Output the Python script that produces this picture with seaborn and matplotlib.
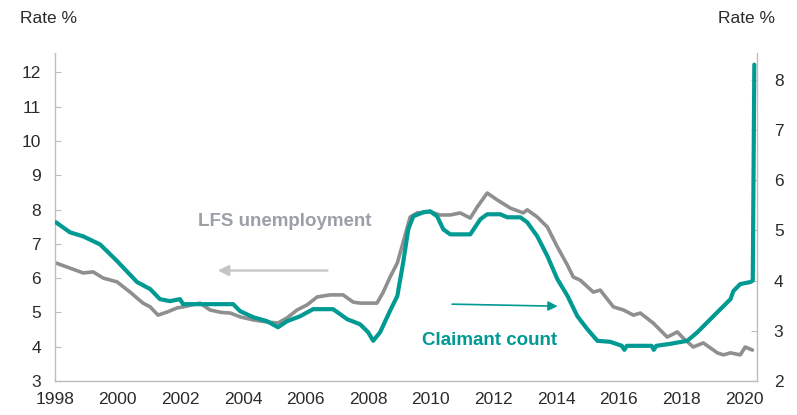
import matplotlib
matplotlib.use("Agg")
import matplotlib.pyplot as plt
import seaborn as sns
import numpy as np

sns.set_style("white")
plt.rcParams["font.family"] = ["Liberation Sans", "DejaVu Sans"]

# LFS unemployment rate (left axis)
lfs_year = [1998.03, 1998.48, 1998.9, 1999.22, 1999.54, 1999.98, 2000.4, 2000.81, 2001.04,
            2001.29, 2001.58, 2001.9, 2002.09, 2002.63, 2002.95, 2003.3, 2003.6, 2003.91,
            2004.33, 2004.77, 2005.12, 2005.41, 2005.73, 2006.05, 2006.37, 2006.79, 2007.2,
            2007.52, 2007.74, 2008.28, 2008.47, 2008.7, 2008.93, 2009.02, 2009.34, 2009.56,
            2009.98, 2010.3, 2010.62, 2010.94, 2011.26, 2011.48, 2011.8, 2012.12, 2012.54,
            2012.95, 2013.08, 2013.4, 2013.72, 2014.04, 2014.36, 2014.55, 2014.77, 2015.19,
            2015.41, 2015.83, 2016.15, 2016.47, 2016.69, 2017.1, 2017.55, 2017.87, 2018.06,
            2018.38, 2018.7, 2019.15, 2019.34, 2019.57, 2019.88, 2020.04, 2020.27]
lfs_rate = [6.44, 6.29, 6.15, 6.18, 6.0, 5.89, 5.59, 5.27, 5.16,
            4.92, 5.01, 5.13, 5.16, 5.27, 5.07, 5.0, 4.98, 4.87,
            4.78, 4.72, 4.69, 4.84, 5.07, 5.22, 5.45, 5.51, 5.51,
            5.30, 5.27, 5.27, 5.57, 6.03, 6.44, 6.73, 7.78, 7.90,
            7.93, 7.84, 7.84, 7.90, 7.75, 8.07, 8.48, 8.28, 8.04,
            7.90, 7.99, 7.78, 7.49, 6.91, 6.38, 6.03, 5.94, 5.59,
            5.65, 5.16, 5.07, 4.92, 4.98, 4.69, 4.28, 4.43, 4.25,
            3.99, 4.11, 3.82, 3.76, 3.82, 3.76, 3.99, 3.90]

# Claimant count rate (right axis)
cc_year = [1998.03, 1998.48, 1998.9, 1999.44, 1999.98, 2000.62, 2001.04, 2001.35, 2001.67,
           2001.99, 2002.09, 2003.27, 2003.69, 2003.91, 2004.33, 2004.77, 2005.12, 2005.41,
           2005.83, 2006.24, 2006.88, 2007.33, 2007.74, 2008.0, 2008.16, 2008.38, 2008.7,
           2008.93, 2009.12, 2009.28, 2009.44, 2009.76, 2009.98, 2010.2, 2010.4, 2010.62,
           2011.26, 2011.58, 2011.8, 2012.22, 2012.44, 2012.86, 2013.08, 2013.4, 2013.72,
           2014.04, 2014.36, 2014.68, 2015.0, 2015.32, 2015.73, 2016.1, 2016.18, 2016.26,
           2017.05, 2017.12, 2017.2, 2017.65, 2018.19, 2018.51, 2018.83, 2019.15, 2019.57,
           2019.66, 2019.88, 2020.2, 2020.28, 2020.33]
cc_rate = [5.16, 4.96, 4.88, 4.72, 4.39, 3.97, 3.83, 3.63, 3.59,
           3.63, 3.53, 3.53, 3.53, 3.39, 3.27, 3.19, 3.07, 3.19,
           3.29, 3.43, 3.43, 3.23, 3.13, 2.97, 2.80, 2.97, 3.40,
           3.69, 4.37, 5.02, 5.28, 5.36, 5.38, 5.28, 5.02, 4.92,
           4.92, 5.22, 5.32, 5.32, 5.26, 5.26, 5.16, 4.88, 4.49,
           4.03, 3.70, 3.29, 3.03, 2.80, 2.78, 2.70, 2.62, 2.70,
           2.70, 2.62, 2.70, 2.74, 2.80, 2.97, 3.17, 3.37, 3.63,
           3.79, 3.93, 3.97, 4.00, 8.30]

gray = "#8f8f8f"
teal = "#009a93"
spine_col = "#bdbdbd"
txt_col = "#2b2b2b"

fig = plt.figure(figsize=(7.97, 4.15), dpi=100)
ax = fig.add_axes([0.069, 0.082, 0.881, 0.790])
ax2 = ax.twinx()

sns.lineplot(x=lfs_year, y=lfs_rate, ax=ax, color=gray, lw=2.6)
sns.lineplot(x=cc_year, y=cc_rate, ax=ax2, color=teal, lw=3.0)

ax.set_xlim(1998, 2020.42)
ax.set_ylim(3, 12.56)
ax2.set_ylim(2, 8.53)

ax.set_xticks(np.arange(1998, 2021, 2))
ax.set_xticks(np.arange(1998, 2021, 1), minor=True)
ax.set_yticks(range(3, 13))
ax2.set_yticks(range(2, 9))

for a in (ax, ax2):
    for s in a.spines.values():
        s.set_color(spine_col)
        s.set_linewidth(1.0)
    a.spines["top"].set_visible(False)
    a.set_xlabel("")
    a.set_ylabel("")
ax.spines["right"].set_visible(False)
ax2.spines["left"].set_visible(False)
ax2.spines["bottom"].set_visible(False)

ax.tick_params(axis="both", which="both", direction="in", length=4, color=spine_col,
               labelsize=12.5, labelcolor=txt_col)
ax.tick_params(axis="y", pad=10)
ax.tick_params(axis="x", pad=8)
ax2.tick_params(axis="y", direction="in", length=4, color=spine_col,
                labelsize=12.5, labelcolor=txt_col, pad=12)

fig.text(0.025, 0.956, "Rate %", fontsize=12.5, color=txt_col, ha="left", va="center")
fig.text(0.973, 0.956, "Rate %", fontsize=12.5, color=txt_col, ha="right", va="center")

ax.text(2005.35, 7.64, "LFS unemployment", color="#9ba0a8", fontsize=13.5,
        fontweight="bold", ha="center", va="center")
ax.annotate("", xy=(2003.2, 6.22), xytext=(2006.7, 6.22),
            arrowprops=dict(arrowstyle="-|>", color="#c4c4c4", lw=1.6,
                            mutation_scale=16, shrinkA=0, shrinkB=0))
ax.text(2011.87, 4.17, "Claimant count", color=teal, fontsize=13.5,
        fontweight="bold", ha="center", va="center")
ax.annotate("", xy=(2014.05, 5.18), xytext=(2010.68, 5.24),
            arrowprops=dict(arrowstyle="-|>", color=teal, lw=1.2,
                            mutation_scale=14, shrinkA=0, shrinkB=0))

fig.savefig("out.png", dpi=100)
